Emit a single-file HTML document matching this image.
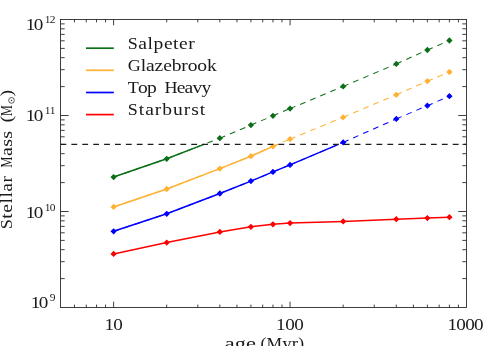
<!DOCTYPE html>
<html><head><meta charset="utf-8"><title>chart</title>
<style>
html,body{margin:0;padding:0;background:#fff;}
body{width:485px;height:346px;overflow:hidden;}
svg{display:block;}
text{font-family:"Liberation Serif",serif;fill:#1a1a1a;}
.tx{filter:grayscale(1);}
</style></head><body>
<svg width="485" height="346" viewBox="0 0 485 346">
<rect x="0" y="0" width="485" height="346" fill="#fff"/>
<defs><clipPath id="below"><rect x="60" y="144.4" width="407" height="164"/></clipPath></defs>

<path d="M60.5 278.60h4.2M466.5 278.60h-4.2M60.5 261.70h4.2M466.5 261.70h-4.2M60.5 249.70h4.2M466.5 249.70h-4.2M60.5 240.40h4.2M466.5 240.40h-4.2M60.5 232.80h4.2M466.5 232.80h-4.2M60.5 226.37h4.2M466.5 226.37h-4.2M60.5 220.80h4.2M466.5 220.80h-4.2M60.5 215.89h4.2M466.5 215.89h-4.2M60.5 211.50h8.2M466.5 211.50h-8.2M60.5 182.60h4.2M466.5 182.60h-4.2M60.5 165.70h4.2M466.5 165.70h-4.2M60.5 153.70h4.2M466.5 153.70h-4.2M60.5 144.40h4.2M466.5 144.40h-4.2M60.5 136.80h4.2M466.5 136.80h-4.2M60.5 130.37h4.2M466.5 130.37h-4.2M60.5 124.80h4.2M466.5 124.80h-4.2M60.5 119.89h4.2M466.5 119.89h-4.2M60.5 115.50h8.2M466.5 115.50h-8.2M60.5 86.60h4.2M466.5 86.60h-4.2M60.5 69.70h4.2M466.5 69.70h-4.2M60.5 57.70h4.2M466.5 57.70h-4.2M60.5 48.40h4.2M466.5 48.40h-4.2M60.5 40.80h4.2M466.5 40.80h-4.2M60.5 34.37h4.2M466.5 34.37h-4.2M60.5 28.80h4.2M466.5 28.80h-4.2M60.5 23.89h4.2M466.5 23.89h-4.2M74.47 307.5v-2.9M74.47 19.5v2.9M86.28 307.5v-2.9M86.28 19.5v2.9M96.52 307.5v-2.9M96.52 19.5v2.9M105.54 307.5v-2.9M105.54 19.5v2.9M113.61 307.5v-5.8M113.61 19.5v5.8M166.73 307.5v-2.9M166.73 19.5v2.9M197.80 307.5v-2.9M197.80 19.5v2.9M219.84 307.5v-2.9M219.84 19.5v2.9M236.94 307.5v-2.9M236.94 19.5v2.9M250.91 307.5v-2.9M250.91 19.5v2.9M262.73 307.5v-2.9M262.73 19.5v2.9M272.96 307.5v-2.9M272.96 19.5v2.9M281.98 307.5v-2.9M281.98 19.5v2.9M290.06 307.5v-5.8M290.06 19.5v5.8M343.17 307.5v-2.9M343.17 19.5v2.9M374.24 307.5v-2.9M374.24 19.5v2.9M396.29 307.5v-2.9M396.29 19.5v2.9M413.39 307.5v-2.9M413.39 19.5v2.9M427.36 307.5v-2.9M427.36 19.5v2.9M439.17 307.5v-2.9M439.17 19.5v2.9M449.40 307.5v-2.9M449.40 19.5v2.9M458.43 307.5v-2.9M458.43 19.5v2.9" stroke="#2a2a2a" stroke-width="0.9" fill="none"/>
<rect x="60.5" y="19.5" width="406.0" height="288.0" fill="none" stroke="#2a2a2a" stroke-width="0.9"/>
<path d="M113.61 177.10L166.73 158.80M166.73 158.80L219.84 138.20M219.84 138.20L250.91 125.10M250.91 125.10L272.96 115.80M272.96 115.80L290.06 108.60M290.06 108.60L343.17 86.40M343.17 86.40L396.29 63.90M396.29 63.90L427.36 50.00M427.36 50.00L449.40 40.50" fill="none" stroke="#0c6e17" stroke-width="1.05" stroke-dasharray="5.8 5.1"/><polyline points="113.61,177.10 166.73,158.80 203.86,144.40" fill="none" stroke="#0c6e17" stroke-width="1.55"/><path d="M110.46 177.10L113.61 173.95L116.76 177.10L113.61 180.25ZM163.58 158.80L166.73 155.65L169.88 158.80L166.73 161.95ZM216.69 138.20L219.84 135.05L222.99 138.20L219.84 141.35ZM247.76 125.10L250.91 121.95L254.06 125.10L250.91 128.25ZM269.81 115.80L272.96 112.65L276.11 115.80L272.96 118.95ZM286.91 108.60L290.06 105.45L293.21 108.60L290.06 111.75ZM340.02 86.40L343.17 83.25L346.32 86.40L343.17 89.55ZM393.14 63.90L396.29 60.75L399.44 63.90L396.29 67.05ZM424.21 50.00L427.36 46.85L430.51 50.00L427.36 53.15ZM446.25 40.50L449.40 37.35L452.55 40.50L449.40 43.65Z" fill="#0c6e17"/>
<path d="M113.61 206.90L166.73 189.00M166.73 189.00L219.84 168.60M219.84 168.60L250.91 156.20M250.91 156.20L272.96 146.40M272.96 146.40L290.06 139.10M290.06 139.10L343.17 117.30M343.17 117.30L396.29 94.80M396.29 94.80L427.36 81.20M427.36 81.20L449.40 72.00" fill="none" stroke="#ffb133" stroke-width="1.05" stroke-dasharray="5.8 5.1"/><polyline points="113.61,206.90 166.73,189.00 219.84,168.60 250.91,156.20 272.96,146.40 277.64,144.40" fill="none" stroke="#ffb133" stroke-width="1.55"/><path d="M110.46 206.90L113.61 203.75L116.76 206.90L113.61 210.05ZM163.58 189.00L166.73 185.85L169.88 189.00L166.73 192.15ZM216.69 168.60L219.84 165.45L222.99 168.60L219.84 171.75ZM247.76 156.20L250.91 153.05L254.06 156.20L250.91 159.35ZM269.81 146.40L272.96 143.25L276.11 146.40L272.96 149.55ZM286.91 139.10L290.06 135.95L293.21 139.10L290.06 142.25ZM340.02 117.30L343.17 114.15L346.32 117.30L343.17 120.45ZM393.14 94.80L396.29 91.65L399.44 94.80L396.29 97.95ZM424.21 81.20L427.36 78.05L430.51 81.20L427.36 84.35ZM446.25 72.00L449.40 68.85L452.55 72.00L449.40 75.15Z" fill="#ffb133"/>
<path d="M113.61 231.30L166.73 213.80M166.73 213.80L219.84 193.50M219.84 193.50L250.91 181.10M250.91 181.10L272.96 171.90M272.96 171.90L290.06 164.90M290.06 164.90L343.17 142.40M343.17 142.40L396.29 118.90M396.29 118.90L427.36 105.70M427.36 105.70L449.40 96.20" fill="none" stroke="#0000ff" stroke-width="1.05" stroke-dasharray="5.8 5.1"/><polyline points="113.61,231.30 166.73,213.80 219.84,193.50 250.91,181.10 272.96,171.90 290.06,164.90 338.45,144.40" fill="none" stroke="#0000ff" stroke-width="1.55"/><path d="M110.46 231.30L113.61 228.15L116.76 231.30L113.61 234.45ZM163.58 213.80L166.73 210.65L169.88 213.80L166.73 216.95ZM216.69 193.50L219.84 190.35L222.99 193.50L219.84 196.65ZM247.76 181.10L250.91 177.95L254.06 181.10L250.91 184.25ZM269.81 171.90L272.96 168.75L276.11 171.90L272.96 175.05ZM286.91 164.90L290.06 161.75L293.21 164.90L290.06 168.05ZM340.02 142.40L343.17 139.25L346.32 142.40L343.17 145.55ZM393.14 118.90L396.29 115.75L399.44 118.90L396.29 122.05ZM424.21 105.70L427.36 102.55L430.51 105.70L427.36 108.85ZM446.25 96.20L449.40 93.05L452.55 96.20L449.40 99.35Z" fill="#0000ff"/>
<polyline points="113.61,253.90 166.73,242.60 219.84,231.90 250.91,226.80 272.96,224.30 290.06,223.10 343.17,221.40 396.29,219.20 427.36,218.10 449.40,217.20" fill="none" stroke="#ff0000" stroke-width="1.55"/><path d="M110.46 253.90L113.61 250.75L116.76 253.90L113.61 257.05ZM163.58 242.60L166.73 239.45L169.88 242.60L166.73 245.75ZM216.69 231.90L219.84 228.75L222.99 231.90L219.84 235.05ZM247.76 226.80L250.91 223.65L254.06 226.80L250.91 229.95ZM269.81 224.30L272.96 221.15L276.11 224.30L272.96 227.45ZM286.91 223.10L290.06 219.95L293.21 223.10L290.06 226.25ZM340.02 221.40L343.17 218.25L346.32 221.40L343.17 224.55ZM393.14 219.20L396.29 216.05L399.44 219.20L396.29 222.35ZM424.21 218.10L427.36 214.95L430.51 218.10L427.36 221.25ZM446.25 217.20L449.40 214.05L452.55 217.20L449.40 220.35Z" fill="#ff0000"/>
<path d="M60.5 144.4H466.5" stroke="#1c1c1c" stroke-width="1.1" stroke-dasharray="5.8 5.096" fill="none"/>
<path d="M86 48.2H113.8" stroke="#0c6e17" stroke-width="1.7"/>
<text class="tx" transform="translate(127.8 49.0) scale(1.15 1)" font-size="15.7" textLength="58.26" lengthAdjust="spacing" fill="#303030">S<tspan font-size="17">alpeter</tspan></text>
<path d="M86 70.3H113.8" stroke="#ffb133" stroke-width="1.7"/>
<text class="tx" transform="translate(127.8 71.1) scale(1.15 1)" font-size="15.7" textLength="77.39" lengthAdjust="spacing" fill="#303030">G<tspan font-size="17">lazebrook</tspan></text>
<path d="M86 92.5H113.8" stroke="#0000ff" stroke-width="1.7"/>
<text class="tx" transform="translate(127.8 93.3) scale(1.15 1)" font-size="15.7" textLength="72.61" lengthAdjust="spacing" fill="#303030" word-spacing="4">T<tspan font-size="17">op</tspan> H<tspan font-size="17">eavy</tspan></text>
<path d="M86 114.6H113.8" stroke="#ff0000" stroke-width="1.7"/>
<text class="tx" transform="translate(127.8 115.4) scale(1.15 1)" font-size="15.7" textLength="67.39" lengthAdjust="spacing" fill="#303030">S<tspan font-size="17">tarburst</tspan></text>
<text class="tx" transform="translate(25.8 29.8) scale(1.22 1)" font-size="15.7" textLength="14.43" lengthAdjust="spacing" fill="#303030">10</text>
<text class="tx" transform="translate(44.7 22.8) scale(1.22 1)" font-size="9.4" textLength="8.93" lengthAdjust="spacing" fill="#303030">12</text>
<text class="tx" transform="translate(25.8 121.4) scale(1.22 1)" font-size="15.7" textLength="14.43" lengthAdjust="spacing" fill="#303030">10</text>
<text class="tx" transform="translate(44.7 114.4) scale(1.22 1)" font-size="9.4" textLength="8.93" lengthAdjust="spacing" fill="#303030">11</text>
<text class="tx" transform="translate(25.8 217.5) scale(1.22 1)" font-size="15.7" textLength="14.43" lengthAdjust="spacing" fill="#303030">10</text>
<text class="tx" transform="translate(44.7 210.5) scale(1.22 1)" font-size="9.4" textLength="8.93" lengthAdjust="spacing" fill="#303030">10</text>
<text class="tx" transform="translate(30.8 308.1) scale(1.22 1)" font-size="15.7" textLength="14.43" lengthAdjust="spacing" fill="#303030">10</text>
<text class="tx" transform="translate(49.7 301.1) scale(1.22 1)" font-size="9.4" textLength="4.84" lengthAdjust="spacing" fill="#303030">9</text>
<text class="tx" transform="translate(104.6 330.0) scale(1.22 1)" font-size="15.7" textLength="14.92" lengthAdjust="spacing" fill="#303030">10</text>
<text class="tx" transform="translate(276.0 330.0) scale(1.22 1)" font-size="15.7" textLength="22.87" lengthAdjust="spacing" fill="#303030">100</text>
<text class="tx" transform="translate(447.6 330.0) scale(1.22 1)" font-size="15.7" textLength="29.43" lengthAdjust="spacing" fill="#303030">1000</text>
<text class="tx" transform="translate(224.7 348.6) scale(1.32 1)" font-size="15.7" textLength="23.64" lengthAdjust="spacing" fill="#303030"><tspan font-size="17">age</tspan></text>
<text class="tx" transform="translate(260.5 348.6) scale(1.12 1)" font-size="15.7" textLength="38.84" lengthAdjust="spacing" fill="#303030">(M<tspan font-size="17">yr</tspan>)</text>
<g transform="translate(12.1 229.2) rotate(-90)"><text class="tx" transform="translate(0.0 0.0) scale(1.15 1)" font-size="15.7" textLength="46.26" lengthAdjust="spacing" fill="#303030">S<tspan font-size="17">tellar</tspan></text><text class="tx" transform="translate(61.6 0.0) scale(0.77 1)" font-size="15.7" textLength="14.55" lengthAdjust="spacing" fill="#303030">M</text><text class="tx" transform="translate(73.2 0.0) scale(1.18 1)" font-size="15.7" textLength="21.19" lengthAdjust="spacing" fill="#303030"><tspan font-size="17">ass</tspan></text><text class="tx" transform="translate(106.7 -0.3) scale(1.15 1)" font-size="17.5" textLength="4.87" lengthAdjust="spacing" fill="#303030">(</text><text class="tx" transform="translate(113.2 0.0) scale(0.77 1)" font-size="15.7" textLength="14.55" lengthAdjust="spacing" fill="#303030">M</text><circle cx="128.8" cy="-0.6" r="2.85" fill="none" stroke="#303030" stroke-width="0.8"/><circle cx="128.8" cy="-0.6" r="0.75" fill="#303030"/><text class="tx" transform="translate(132.8 -0.3) scale(1.15 1)" font-size="17.5" textLength="4.87" lengthAdjust="spacing" fill="#303030">)</text></g>
</svg></body></html>
